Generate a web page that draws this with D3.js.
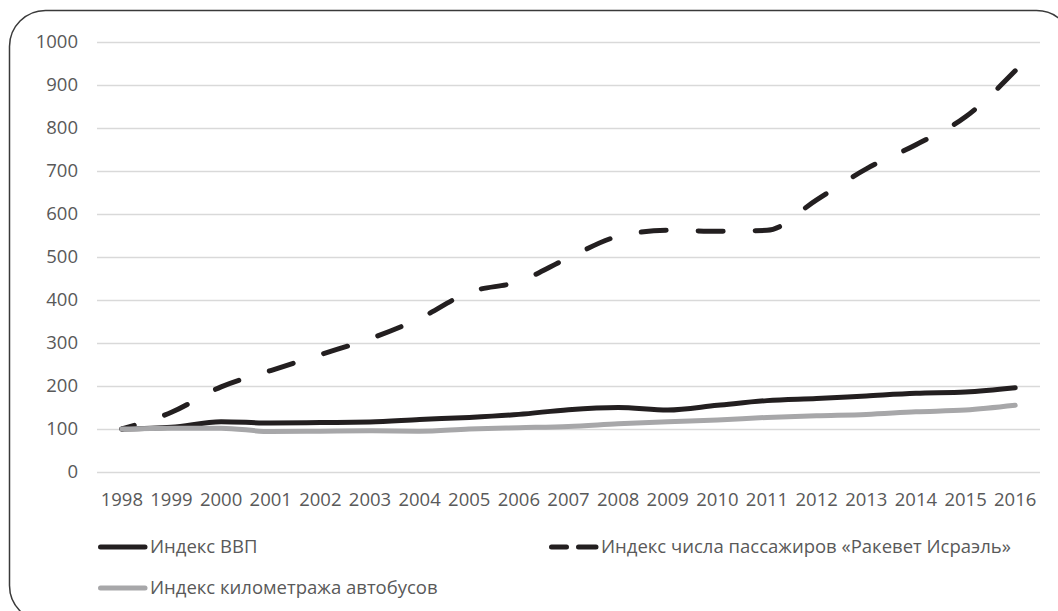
<!DOCTYPE html>
<html>
<head>
<meta charset="utf-8">
<script src="https://cdn.jsdelivr.net/npm/d3@7"></script>
<style>
  html, body { margin: 0; padding: 0; background: #fff; }
  svg { display: block; font-family: "Open Sans", "Noto Sans", sans-serif; }
</style>
</head>
<body>
<svg id="chart" width="1058" height="611"></svg>
<script>
// years on the x axis
const years = ["1998","1999","2000","2001","2002","2003","2004","2005","2006","2007",
               "2008","2009","2010","2011","2012","2013","2014","2015","2016"];

// index values (1998 = 100)
const gdpIndex  = [100,104,117,114,115,116,122,127,134,145,150,144,155,166,171,177,183,186,196];
const railIndex = [100,139,198,236,273,310,357,418,443,498,548,562,560,562,633,705,761,826,933];
const busIndex  = [100,102,102,94,95,96,95,100,103,106,112,117,121,127,131,134,140,144,155];

const yTicks = [0,100,200,300,400,500,600,700,800,900,1000];

const seriesNames = ["Индекс ВВП",
                     "Индекс числа пассажиров «Ракевет Исраэль»",
                     "Индекс километража автобусов"];

const svg = d3.select("#chart");
const W = 1058, H = 611;

svg.append("rect").attr("width", W).attr("height", H).attr("fill", "#fff");

// outer rounded frame (runs off the right / bottom edge)
svg.append("rect")
    .attr("x", 9.5).attr("y", 10.5)
    .attr("width", 1063).attr("height", 611)
    .attr("rx", 36).attr("ry", 36)
    .attr("fill", "none")
    .attr("stroke", "#3a3a3a")
    .attr("stroke-width", 1.5);

const x = d3.scaleBand().domain(years).range([97, 1040]).padding(0);
const xc = d => x(d) + x.bandwidth() / 2;
const y = d3.scaleLinear().domain([0, 1000]).range([472, 42]);

// gridlines
svg.append("g")
  .selectAll("line")
  .data(yTicks)
  .join("line")
    .attr("x1", 97).attr("x2", 1040)
    .attr("y1", d => Math.round(y(d)) + 0.5)
    .attr("y2", d => Math.round(y(d)) + 0.5)
    .attr("stroke", "#d9d9d9")
    .attr("stroke-width", 1.3);

// y axis labels
const yAxis = d3.axisLeft(y).tickValues(yTicks).tickFormat(d3.format("d")).tickSize(0).tickPadding(0);
svg.append("g")
    .attr("transform", "translate(78,0)")
    .call(yAxis)
    .call(g => g.select(".domain").remove())
    .selectAll("text")
    .attr("font-size", 18.5)
    .attr("font-family", "'Open Sans', sans-serif")
    .attr("fill", "#595959");

// x axis labels
const xAxis = d3.axisBottom(x).tickSize(0).tickPadding(0);
svg.append("g")
    .attr("transform", "translate(0,493)")
    .call(xAxis)
    .call(g => g.select(".domain").remove())
    .selectAll("text")
    .attr("font-size", 18.5)
    .attr("font-family", "'Open Sans', sans-serif")
    .attr("fill", "#595959");

const line = d3.line()
    .x((d, i) => xc(years[i]))
    .y(d => y(d))
    .curve(d3.curveMonotoneX);

const series = [
  {name: seriesNames[0], values: gdpIndex,  color: "#231f20", dash: null},
  {name: seriesNames[1], values: railIndex, color: "#231f20", dash: "25,32"},
  {name: seriesNames[2], values: busIndex,  color: "#a7a7a9", dash: null}
];

svg.append("g")
  .selectAll("path")
  .data(series)
  .join("path")
    .attr("d", d => line(d.values))
    .attr("fill", "none")
    .attr("stroke", d => d.color)
    .attr("stroke-width", 5)
    .attr("stroke-linecap", "round")
    .attr("stroke-linejoin", "round")
    .attr("stroke-dasharray", d => d.dash)
    .attr("stroke-dashoffset", d => d.dash ? 12 : null);

// legend: two columns, GDP + rail on first row, buses below
const legendPos = [
  {x: 98,  y: 547},
  {x: 549, y: 547},
  {x: 98,  y: 588}
];

const leg = svg.append("g")
  .selectAll("g")
  .data(series)
  .join("g")
    .attr("transform", (d, i) => `translate(${legendPos[i].x},${legendPos[i].y})`);

leg.append("line")
    .attr("x1", 2.5)
    .attr("x2", 47)
    .attr("y1", 0).attr("y2", 0)
    .attr("stroke", d => d.color)
    .attr("stroke-width", 5)
    .attr("stroke-linecap", "round")
    .attr("stroke-dasharray", d => d.dash ? "15,12,17.5" : null);

leg.append("text")
    .attr("x", 52)
    .attr("dy", "0.35em")
    .attr("font-size", 18.5)
    .attr("fill", "#595959")
    .text(d => d.name);
</script>
</body>
</html>
